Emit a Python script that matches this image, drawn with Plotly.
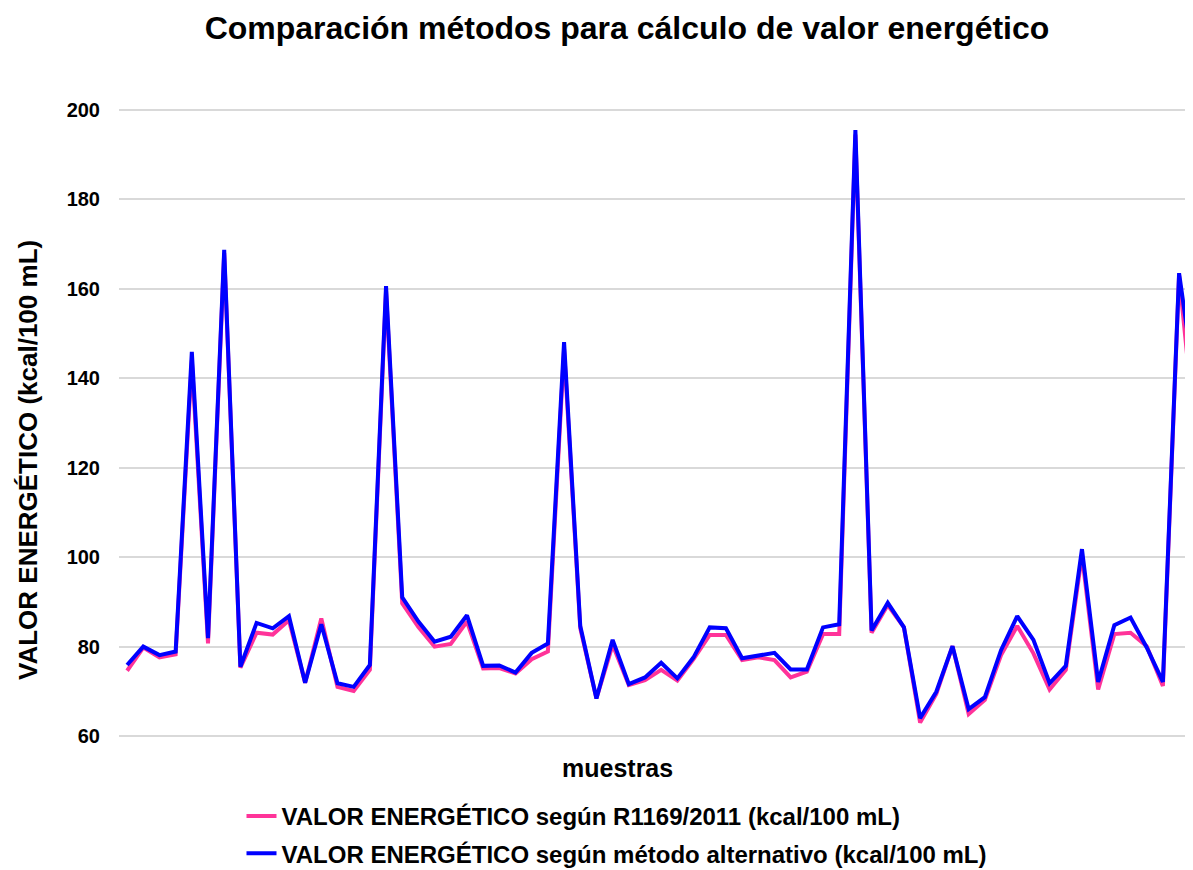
import plotly.graph_objects as go

muestras = list(range(1, 68))

valor_r1169 = [74.6, 79.8, 77.6, 78.3, 144.0, 80.7, 168.0, 75.3, 83.1, 82.7,
               85.9, 71.9, 86.3, 71.0, 70.1, 74.8, 159.5, 89.7, 84.4, 80.0,
               80.6, 85.6, 75.1, 75.2, 74.0, 77.2, 78.9, 146.5, 84.1, 68.4,
               80.4, 71.4, 72.5, 74.8, 72.4, 77.2, 82.6, 82.6, 77.0, 77.6,
               77.0, 73.1, 74.4, 82.8, 82.8, 194.5, 83.1, 89.3, 84.3, 63.0,
               69.4, 80.1, 64.9, 68.1, 78.1, 84.6, 78.5, 70.4, 74.8, 100.5,
               70.4, 82.8, 83.1, 80.1, 71.2, 163.0, 127.0]

valor_alternativo = [75.9, 80.0, 78.1, 78.9, 145.9, 81.9, 168.7, 75.5, 85.3, 84.1,
                     86.8, 71.9, 85.0, 71.8, 71.0, 75.9, 160.6, 91.0, 85.6, 81.1,
                     82.2, 87.0, 75.7, 75.8, 74.2, 78.6, 80.7, 148.1, 84.6, 68.4,
                     81.5, 71.6, 73.1, 76.4, 72.9, 77.6, 84.3, 84.1, 77.4, 78.0,
                     78.6, 74.9, 74.9, 84.3, 85.0, 195.5, 83.6, 89.8, 84.3, 64.0,
                     69.9, 80.1, 66.0, 68.7, 79.2, 86.8, 81.5, 71.8, 75.7, 101.8,
                     72.1, 84.8, 86.5, 79.8, 72.1, 163.5, 138.0]

y_ticks = [60, 80, 100, 120, 140, 160, 180, 200]

fuente = "Liberation Sans, Arial, sans-serif"

# la página deja 8 px de margen en el body
W, H = 1185, 862
L, T, B = 111, 93, 125
alto_plot = H - T - B
ancho_plot = W - L

fig = go.Figure()
fig.add_trace(go.Scatter(x=muestras, y=valor_r1169, mode="lines",
                         name="<b>VALOR ENERGÉTICO según R1169/2011 (kcal/100 mL)</b>",
                         line=dict(color="#ff3399", width=4),
                         legendgroup="a"))
fig.add_trace(go.Scatter(x=muestras, y=valor_alternativo, mode="lines",
                         name="<b>VALOR ENERGÉTICO según método alternativo (kcal/100 mL)</b>",
                         line=dict(color="#0000ff", width=4),
                         legendgroup="b"))

fig.update_layout(
    width=W, height=H,
    margin=dict(l=L, r=0, t=T, b=B, autoexpand=False),
    plot_bgcolor="white", paper_bgcolor="white",
    font=dict(family=fuente, size=20, color="black"),
    title=dict(text="<b>Comparación métodos para cálculo de valor energético</b>",
               x=619 / W, xref="container", xanchor="center",
               y=1 - 20 / H, yref="container", yanchor="middle",
               font=dict(family=fuente, size=32, color="black")),
    xaxis=dict(range=[0.5, 66.86], showticklabels=False, showgrid=False,
               zeroline=False, showline=False, ticks=""),
    yaxis=dict(range=[58, 202], tickvals=y_ticks, showgrid=True,
               gridcolor="#d9d9d9", gridwidth=2, zeroline=False, showline=False,
               ticks="", ticklabelstandoff=18,
               tickfont=dict(family=fuente, size=20, color="black", weight="bold")),
    legend=dict(orientation="v", x=(609 - L) / ancho_plot, xanchor="center",
                y=-(786 - 737) / alto_plot, yanchor="top",
                traceorder="grouped", tracegroupgap=3,
                font=dict(family=fuente, size=24, color="black")),
    annotations=[
        dict(text="<b>muestras</b>", xref="paper", yref="paper",
             x=(609 - L) / ancho_plot, y=-(760 - 737) / alto_plot,
             xanchor="center", yanchor="middle", showarrow=False,
             font=dict(family=fuente, size=25, color="black")),
        dict(text="<b>VALOR ENERGÉTICO (kcal/100 mL)</b>", xref="paper", yref="paper",
             x=(20 - L) / ancho_plot, y=(737 - 452) / alto_plot, textangle=-90,
             xanchor="center", yanchor="middle", showarrow=False,
             font=dict(family=fuente, size=26, color="black")),
    ],
)

fig.write_html("out.html")
